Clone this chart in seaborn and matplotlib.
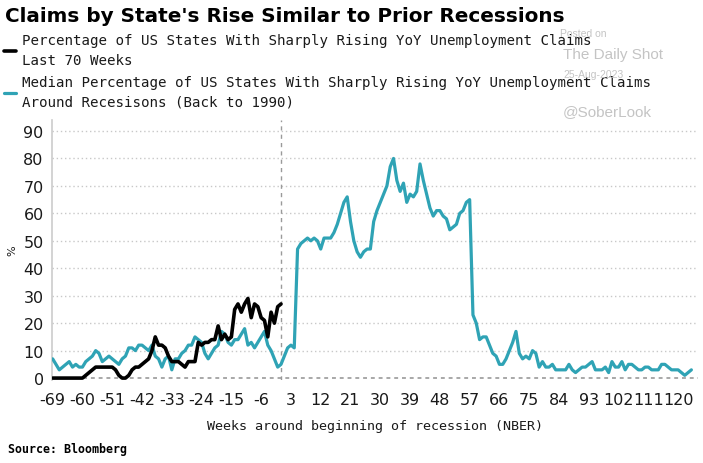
import matplotlib
matplotlib.use("Agg")
import matplotlib.pyplot as plt
import seaborn as sns
import pandas as pd

# ---------------- data ----------------
weeks_recent = list(range(-69, 1))
recent_pct = [0, 0, 0, 0, 0, 0, 0, 0, 0, 0,
              1, 2, 3, 4, 4, 4, 4, 4, 4, 3,
              1, 0, 0, 1, 3, 4, 4, 5, 6, 7,
              10, 15, 12, 12, 11, 8, 6, 6, 6, 5,
              4, 6, 6, 6, 13, 12, 13, 13, 14, 14,
              19, 14, 16, 14, 15, 25, 27, 24, 27, 29,
              22, 27, 26, 22, 21, 15, 24, 20, 26, 27]

weeks_median = list(range(-69, 125))
median_pct = [7, 5, 3, 4, 5, 6, 4, 5, 4, 4,
              6, 7, 8, 10, 9, 6, 7, 8, 7, 6,
              5, 7, 8, 11, 11, 10, 12, 12, 11, 10,
              12, 8, 7, 4, 7, 8, 3, 7, 7, 9,
              10, 12, 12, 15, 14, 13, 9, 7, 9, 11,
              12, 17, 16, 13, 12, 14, 14, 16, 18, 12,
              13, 11, 13, 15, 17, 12, 10, 7, 4, 5,
              8, 11, 12, 11,
              47, 49, 50, 51, 50, 51, 50, 47, 51, 51,
              51, 53, 56, 60, 64, 66, 57, 50, 46, 44,
              46, 47, 47, 57, 61, 64, 67, 70, 77, 80,
              72, 68, 71, 64, 67, 66, 68, 78, 72, 67,
              62, 59, 61, 61, 59, 58, 54, 55, 56, 60,
              61, 64, 65, 23, 20, 14, 15, 15, 12, 9,
              8, 5, 5, 7, 10, 13, 17, 9, 7, 8,
              7, 10, 9, 4, 6, 4, 4, 5, 3, 3,
              3, 3, 5, 3, 2, 3, 4, 4, 5, 6,
              3, 3, 3, 4, 2, 6, 4, 4, 6, 3,
              5, 5, 4, 3, 3, 4, 4, 3, 3, 3,
              5, 5, 4, 3, 3, 3, 2, 1, 2, 3]

xtick_vals = list(range(-69, 121, 9))
xtick_labels = [str(v) for v in xtick_vals]
ytick_vals = list(range(0, 91, 10))

label_recent = "Percentage of US States With Sharply Rising YoY Unemployment Claims\nLast 70 Weeks"
label_median = "Median Percentage of US States With Sharply Rising YoY Unemployment Claims\nAround Recesisons (Back to 1990)"

df_recent = pd.DataFrame({"week": weeks_recent, "pct": recent_pct})
df_median = pd.DataFrame({"week": weeks_median, "pct": median_pct})

# ---------------- style ----------------
sns.set_style("white")
plt.rcParams["font.family"] = ["DejaVu Sans"]
plt.rcParams["axes.unicode_minus"] = False

W, H = 703, 464
fig = plt.figure(figsize=(W / 100, H / 100), dpi=100)
ax = fig.add_axes([52 / W, 83 / H, 646 / W, 260 / H])

teal = "#2fa3b5"
sns.lineplot(data=df_median, x="week", y="pct", ax=ax, color=teal,
             linewidth=2.3, label=label_median, zorder=3)
sns.lineplot(data=df_recent, x="week", y="pct", ax=ax, color="black",
             linewidth=2.6, label=label_recent, zorder=4)

ax.set_xlim(-69.2, 126)
ax.set_ylim(-0.7, 94)

# grid
for v in ytick_vals[1:]:
    ax.axhline(v, color="#c8c8c8", linewidth=1.0, linestyle=(0, (1, 2)), zorder=1)
ax.axhline(0, color="#a8a8a8", linewidth=1.4, linestyle=(0, (2, 2)), zorder=2)
ax.axvline(0, color="#9a9a9a", linewidth=1.0, linestyle=(0, (3, 3)), zorder=2)

ax.set_xticks(xtick_vals)
ax.set_xticklabels(xtick_labels)
ax.set_yticks(ytick_vals)
ax.tick_params(axis="x", direction="out", length=5, width=1, color="#c0c0c0",
               labelsize=11.5, labelcolor="#1a1a1a", pad=4)
ax.tick_params(axis="y", length=0, labelsize=11.5, labelcolor="#1a1a1a", pad=6)

for s in ["top", "right", "bottom"]:
    ax.spines[s].set_visible(False)
ax.spines["left"].set_color("#cccccc")
ax.spines["left"].set_linewidth(1.2)

ax.set_xlabel("Weeks around beginning of recession (NBER)",
              fontfamily="DejaVu Sans Mono", fontsize=9.6, color="#1a1a1a", labelpad=8)
ax.set_ylabel("%", fontsize=8, color="#1a1a1a")
ax.yaxis.set_label_coords(-35 / 646, 0.5)

# legend
handles, labels = ax.get_legend_handles_labels()
order = [labels.index(label_recent), labels.index(label_median)]
leg = ax.legend([handles[i] for i in order], [labels[i] for i in order],
                loc="upper left", bbox_to_anchor=(0.0, 1 - 30 / H),
                bbox_transform=fig.transFigure, frameon=False,
                prop={"family": "DejaVu Sans Mono", "size": 10.2},
                handlelength=0.85, handletextpad=0.4, borderaxespad=0,
                borderpad=0.3, labelspacing=0.6)
for t in leg.get_texts():
    t.set_linespacing(1.5)
    t.set_color("#1a1a1a")

# title and notes
fig.text(5 / W, 1 - 16 / H, "Claims by State's Rise Similar to Prior Recessions",
         fontsize=14.4, fontweight="bold", va="center", ha="left", color="black")
fig.text(8 / W, 1 - 450 / H, "Source: Bloomberg", fontfamily="DejaVu Sans Mono",
         fontsize=8.4, fontweight="bold", va="center", ha="left", color="black")

# watermark
wm = "#c4c4c4"
fig.text(560 / W, 1 - 34 / H, "Posted on", fontfamily="Liberation Sans", fontsize=7.5,
         color=wm, va="center", zorder=0)
fig.text(563 / W, 1 - 55 / H, "The Daily Shot", fontfamily="Liberation Sans", fontsize=11,
         color=wm, va="center", zorder=0)
fig.text(563 / W, 1 - 75 / H, "25-Aug-2023", fontfamily="Liberation Sans", fontsize=7.5,
         color=wm, va="center", zorder=0)
fig.text(563 / W, 1 - 112 / H, "@SoberLook", fontfamily="Liberation Sans", fontsize=11,
         color=wm, va="center", zorder=0)

fig.savefig("out.png", dpi=100)
